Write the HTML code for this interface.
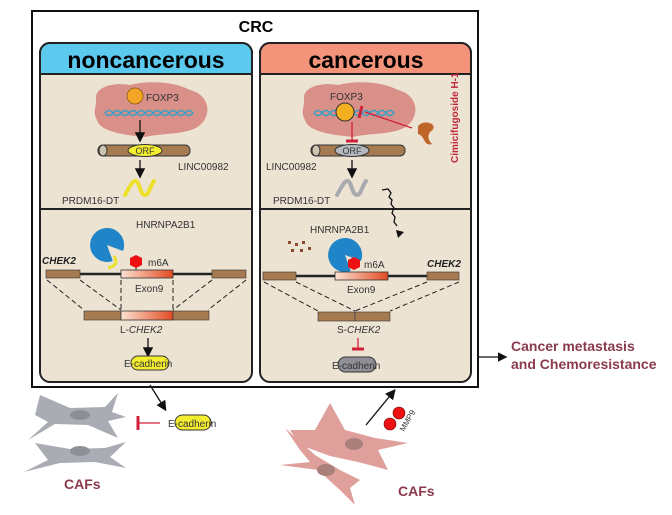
<!DOCTYPE html>
<html><head><meta charset="utf-8"><style>
html,body{margin:0;padding:0;background:#fff;}
svg{display:block;font-family:"Liberation Sans",sans-serif;}
</style></head><body>
<svg width="672" height="515" viewBox="0 0 672 515" xmlns="http://www.w3.org/2000/svg">
<defs>
<linearGradient id="ex" x1="0" x2="1"><stop offset="0" stop-color="#fbe3d3"/><stop offset="1" stop-color="#e24a22"/></linearGradient>
<marker id="ar" markerWidth="8" markerHeight="8" refX="6" refY="4" orient="auto"><path d="M0,0 L8,4 L0,8 z" fill="#111"/></marker>
</defs>
<!-- outer -->
<rect x="32" y="11" width="446" height="376" fill="#fff" stroke="#111" stroke-width="2"/>
<text x="256" y="32" font-size="16" font-weight="bold" text-anchor="middle">CRC</text>
<!-- left panel -->
<rect x="40" y="43" width="212" height="339" rx="10" fill="#ede3d3" stroke="#222" stroke-width="2"/>
<path d="M40,74 V53 a10,10 0 0 1 10,-10 H242 a10,10 0 0 1 10,10 V74 z" fill="#5cc9ef" stroke="#222" stroke-width="2"/>
<text x="146" y="68" font-size="23" font-weight="bold" text-anchor="middle">noncancerous</text>
<line x1="40" y1="209" x2="252" y2="209" stroke="#222" stroke-width="2"/>
<!-- right panel -->
<rect x="260" y="43" width="211" height="339" rx="10" fill="#ede3d3" stroke="#222" stroke-width="2"/>
<path d="M260,74 V53 a10,10 0 0 1 10,-10 H461 a10,10 0 0 1 10,10 V74 z" fill="#f3937a" stroke="#222" stroke-width="2"/>
<text x="366" y="68" font-size="23" font-weight="bold" text-anchor="middle">cancerous</text>
<line x1="260" y1="209" x2="471" y2="209" stroke="#222" stroke-width="2"/>

<!-- left nucleus -->
<path d="M96,100 C94,86 115,82 130,85 C150,80 175,82 190,90 C210,95 212,115 200,125 C190,135 160,133 145,137 C125,135 100,132 97,120 C92,112 97,105 96,100z" fill="#d99088"/>
<circle cx="135" cy="96" r="8" fill="#f2a526" stroke="#8a5a10" stroke-width="0.8"/>
<text x="146" y="101" font-size="10" fill="#333">FOXP3</text>
<path d="M105,113 q4,-5 8,0 t8,0 t8,0 t8,0 t8,0 t8,0 t8,0 t8,0 t8,0 t8,0 t8,0" fill="none" stroke="#3aa0c8" stroke-width="1.5"/>
<path d="M105,113 q4,5 8,0 t8,0 t8,0 t8,0 t8,0 t8,0 t8,0 t8,0 t8,0 t8,0 t8,0" fill="none" stroke="#3aa0c8" stroke-width="1.5"/>
<line x1="140" y1="120" x2="140" y2="140" stroke="#111" stroke-width="1.3" marker-end="url(#ar)"/>
<rect x="98" y="145" width="92" height="11" rx="5" fill="#a77b52" stroke="#333"/>
<ellipse cx="103" cy="150.5" rx="4" ry="5.5" fill="#cfc4b0" stroke="#333"/>
<ellipse cx="145" cy="150.5" rx="17" ry="6" fill="#f4ee30" stroke="#333"/>
<text x="145" y="154" font-size="9" text-anchor="middle" fill="#333">ORF</text>
<text x="178" y="170" font-size="10" fill="#333">LINC00982</text>
<line x1="140" y1="160" x2="140" y2="176" stroke="#111" stroke-width="1.3" marker-end="url(#ar)"/>
<path d="M125,195 C130,186 133,180 136,181 C140,183 140,195 145,195 C149,195 150,186 154,181" fill="none" stroke="#ece02c" stroke-width="4" stroke-linecap="round"/>
<text x="62" y="204" font-size="10" fill="#333">PRDM16-DT</text>

<!-- left lower -->
<text x="136" y="228" font-size="10" fill="#333">HNRNPA2B1</text>
<path d="M114,256 C118,262 116,266 108,268" fill="none" stroke="#ece02c" stroke-width="3"/>
<path d="M107,245 L123,251 A17,17 0 1 0 112.8,261 z" fill="#1f84c8"/>
<line x1="136" y1="262" x2="136" y2="272" stroke="#333"/>
<polygon points="136,255 142,258 142,265 136,268 130,265 130,258" fill="#e11"/>
<text x="148" y="266" font-size="10" fill="#333">m6A</text>
<text x="42" y="264" font-size="10" font-weight="bold" font-style="italic" fill="#222">CHEK2</text>
<line x1="48" y1="274" x2="245" y2="274" stroke="#222" stroke-width="2.5"/>
<rect x="46" y="270" width="34" height="8" fill="#a77b52" stroke="#333" stroke-width="0.6"/>
<rect x="121" y="270" width="52" height="8" fill="url(#ex)" stroke="#333" stroke-width="0.8"/>
<rect x="212" y="270" width="34" height="8" fill="#a77b52" stroke="#333" stroke-width="0.6"/>
<text x="135" y="292" font-size="10" fill="#333">Exon9</text>
<g stroke="#222" stroke-dasharray="5,3" fill="none">
<line x1="47" y1="280" x2="84" y2="310"/><line x1="80" y1="280" x2="121" y2="310"/>
<line x1="121" y1="280" x2="121" y2="310"/><line x1="173" y1="280" x2="173" y2="310"/>
<line x1="212" y1="280" x2="173" y2="310"/><line x1="246" y1="280" x2="208" y2="310"/>
</g>
<rect x="84" y="311" width="37" height="9" fill="#a77b52" stroke="#333" stroke-width="0.6"/>
<rect x="121" y="311" width="52" height="9" fill="url(#ex)" stroke="#333" stroke-width="0.8"/>
<rect x="173" y="311" width="36" height="9" fill="#a77b52" stroke="#333" stroke-width="0.6"/>
<text x="120" y="333" font-size="10" fill="#333">L-<tspan font-style="italic">CHEK2</tspan></text>
<line x1="148" y1="338" x2="148" y2="355" stroke="#111" stroke-width="1.3" marker-end="url(#ar)"/>
<rect x="131" y="356" width="38" height="14" rx="7" fill="#f4ee30" stroke="#333"/>
<text x="124" y="367" font-size="10" fill="#333">E-cadherin</text>

<!-- right nucleus -->
<path d="M304,100 C302,86 323,82 338,85 C358,80 383,82 398,90 C418,95 420,115 408,125 C398,135 368,133 353,137 C333,135 308,132 305,120 C300,112 305,105 304,100z" fill="#d99088"/>
<text x="330" y="100" font-size="10" fill="#333">FOXP3</text>
<path d="M314,113 q4,-5 8,0 t8,0 t8,0 t8,0 t8,0 t8,0 t8,0 t8,0 t8,0 t8,0" fill="none" stroke="#3aa0c8" stroke-width="1.5"/>
<path d="M314,113 q4,5 8,0 t8,0 t8,0 t8,0 t8,0 t8,0 t8,0 t8,0 t8,0 t8,0" fill="none" stroke="#3aa0c8" stroke-width="1.5"/>
<circle cx="345" cy="112" r="9" fill="#f2b020" stroke="#333"/>
<line x1="352" y1="122" x2="352" y2="140" stroke="#d0203a" stroke-width="1.3"/>
<line x1="346" y1="141" x2="358" y2="141" stroke="#d0203a" stroke-width="3"/>
<line x1="412" y1="128" x2="365" y2="112" stroke="#d0203a" stroke-width="1.3"/>
<line x1="362" y1="106" x2="359" y2="118" stroke="#d0203a" stroke-width="3"/>
<path d="M418,126 q6,-6 14,-2 q4,4 -2,8 q-4,6 2,12 q-5,2 -8,-4 q-2,-5 -6,-6z" fill="#c0652a"/>
<text transform="translate(458,163) rotate(-90)" font-size="10" font-weight="bold" fill="#c0283c">Cimicifugoside H-1</text>
<rect x="311" y="145" width="94" height="11" rx="5" fill="#a77b52" stroke="#333"/>
<ellipse cx="316" cy="150.5" rx="4" ry="5.5" fill="#cfc4b0" stroke="#333"/>
<ellipse cx="352" cy="150.5" rx="17" ry="6" fill="#b5b8bf" stroke="#333"/>
<text x="352" y="154" font-size="9" text-anchor="middle" fill="#333">ORF</text>
<text x="266" y="170" font-size="10" fill="#333">LINC00982</text>
<line x1="352" y1="160" x2="352" y2="176" stroke="#111" stroke-width="1.3" marker-end="url(#ar)"/>
<path d="M337,195 C342,186 345,180 348,181 C352,183 352,195 357,195 C361,195 362,186 366,181" fill="none" stroke="#9aa0a8" stroke-width="4" stroke-linecap="round" opacity="0.85"/>
<text x="273" y="204" font-size="10" fill="#333">PRDM16-DT</text>
<path d="M382,190 l6,-1 l3,4 l-2,4 l3,3 l-1,4 l3,4 l-2,5 l3,4 l-1,5 l3,4" fill="none" stroke="#111" stroke-width="1.3"/>
<polygon points="396,230 404,232 398,238" fill="#111"/>

<!-- right lower -->
<text x="310" y="233" font-size="10" fill="#333">HNRNPA2B1</text>
<g fill="#8a4a30"><rect x="288" y="241" width="3" height="3"/><rect x="295" y="243" width="3" height="3"/><rect x="302" y="241" width="3" height="3"/><rect x="291" y="249" width="3" height="3"/><rect x="300" y="249" width="3" height="3"/><rect x="308" y="247" width="3" height="3"/></g>
<path d="M345,255 L361,261 A17,17 0 1 0 350.8,271 z" fill="#1f84c8"/>
<polygon points="354,257 360,260 360,267 354,270 348,267 348,260" fill="#e11"/>
<text x="364" y="268" font-size="10" fill="#333">m6A</text>
<text x="427" y="267" font-size="10" font-weight="bold" font-style="italic" fill="#222">CHEK2</text>
<line x1="265" y1="276" x2="458" y2="276" stroke="#222" stroke-width="2.5"/>
<rect x="263" y="272" width="33" height="8" fill="#a77b52" stroke="#333" stroke-width="0.6"/>
<rect x="335" y="272" width="53" height="8" fill="url(#ex)" stroke="#333" stroke-width="0.8"/>
<rect x="427" y="272" width="32" height="8" fill="#a77b52" stroke="#333" stroke-width="0.6"/>
<text x="347" y="293" font-size="10" fill="#333">Exon9</text>
<g stroke="#222" stroke-dasharray="5,3" fill="none">
<line x1="264" y1="282" x2="318" y2="311"/><line x1="296" y1="282" x2="355" y2="311"/>
<line x1="427" y1="282" x2="355" y2="311"/><line x1="459" y1="282" x2="390" y2="311"/>
</g>
<rect x="318" y="312" width="37" height="9" fill="#a77b52" stroke="#333" stroke-width="0.6"/>
<rect x="355" y="312" width="35" height="9" fill="#a77b52" stroke="#333" stroke-width="0.6"/>
<text x="337" y="333" font-size="10" fill="#333">S-<tspan font-style="italic">CHEK2</tspan></text>
<line x1="358" y1="338" x2="358" y2="348" stroke="#d0203a" stroke-width="1.3"/>
<line x1="352" y1="349" x2="364" y2="349" stroke="#d0203a" stroke-width="3"/>
<rect x="338" y="357" width="38" height="15" rx="7.5" fill="#8e9096" stroke="#333"/>
<text x="332" y="369" font-size="10" fill="#333">E-cadherin</text>

<!-- outside -->
<line x1="478" y1="357" x2="505" y2="357" stroke="#111" stroke-width="1.2" marker-end="url(#ar)"/>
<text x="511" y="351" font-size="14" font-weight="bold" fill="#8b3a4e">Cancer metastasis</text>
<text x="511" y="369" font-size="14" font-weight="bold" fill="#8b3a4e">and Chemoresistance</text>

<!-- left CAFs -->
<path d="M40,395 L70,408 L105,407 L118,393 L112,412 L126,417 L108,421 L118,438 L88,425 L55,424 L28,440 L48,422 L35,415 z" fill="#a9acb2"/>
<ellipse cx="80" cy="415" rx="10" ry="5" fill="#8d9096"/>
<path d="M35,443 L70,449 L105,448 L126,442 L110,457 L126,468 L95,462 L60,463 L24,472 L48,460 z" fill="#a9acb2"/>
<ellipse cx="80" cy="451" rx="10" ry="5" fill="#8d9096"/>
<text x="64" y="489" font-size="14" font-weight="bold" fill="#8b3a4e">CAFs</text>
<line x1="150" y1="385" x2="165" y2="409" stroke="#111" stroke-width="1.3" marker-end="url(#ar)"/>
<line x1="138" y1="423" x2="160" y2="423" stroke="#d0203a" stroke-width="1.3"/>
<line x1="138" y1="416" x2="138" y2="430" stroke="#d0203a" stroke-width="3"/>
<rect x="175" y="415" width="36" height="15" rx="7.5" fill="#f4ee30" stroke="#333"/>
<text x="168" y="427" font-size="10" fill="#333">E-cadherin</text>

<!-- right CAFs -->
<path d="M330,403 L345,430 L375,438 L408,443 L378,450 L388,470 L358,462 L330,456 L300,445 L290,430 L315,430 z" fill="#dfa09c"/>
<ellipse cx="354" cy="444" rx="9" ry="6" fill="#a9807c"/>
<path d="M285,428 L300,450 L310,462 L280,465 L318,470 L340,490 L355,505 L350,488 L360,480 L340,470 L315,455 z" fill="#dfa09c"/>
<ellipse cx="326" cy="470" rx="9" ry="6" fill="#a9807c"/>
<text x="398" y="496" font-size="14" font-weight="bold" fill="#8b3a4e">CAFs</text>
<line x1="366" y1="425" x2="394" y2="391" stroke="#111" stroke-width="1.3" marker-end="url(#ar)"/>
<circle cx="399" cy="413" r="6" fill="#e11" stroke="#600" stroke-width="0.6"/>
<circle cx="390" cy="424" r="6" fill="#e11" stroke="#600" stroke-width="0.6"/>
<text transform="translate(404,432) rotate(-60)" font-size="8" fill="#333">MMP9</text>
</svg>
</body></html>
